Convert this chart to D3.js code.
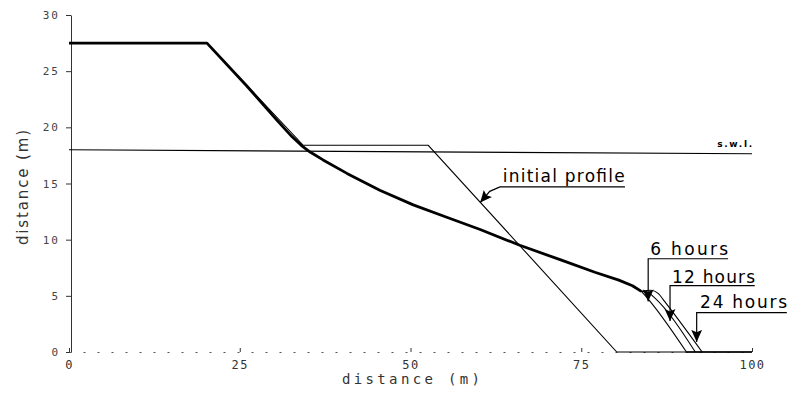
<!DOCTYPE html>
<html>
<head>
<meta charset="utf-8">
<script src="https://cdn.jsdelivr.net/npm/d3@7"></script>
<style>
  html, body { margin: 0; padding: 0; background: #fff; }
  svg { display: block; }
</style>
</head>
<body>
<div id="chart"></div>
<script>
// values (distance in m)
const initialProfile = [[0, 27.5], [20.2, 27.5], [34.3, 18.4], [52.6, 18.4], [80.2, 0], [100, 0]];
const erodedProfile = [[0, 27.5], [20.2, 27.5], [26, 23.7], [30.5, 20.6], [32.6, 19.2], [34.0, 18.4],
    [35.3, 17.8], [37.2, 17.1], [40.7, 15.9], [45.5, 14.4], [50.4, 13.1], [55.3, 12.0],
    [60.2, 10.9], [66, 9.5], [72, 8.2], [77, 7.1], [80.5, 6.4], [82.5, 5.9], [83.8, 5.4]];
const toe6h = [[83.8, 5.4], [84.4, 5.0], [90.4, 0]];
const toe12h = [[83.8, 5.4], [84.8, 5.3], [85.6, 4.9], [91.7, 0]];
const toe24h = [[83.8, 5.4], [85.2, 5.5], [86.3, 5.2], [87.2, 4.5], [92.7, 0]];
const swl = [[0, 18.0], [100, 17.65]];
const bottom = [[90.4, 0], [100, 0]];

const xTicks = [0, 25, 50, 75, 100];
const yTicks = [0, 5, 10, 15, 20, 25, 30];

// annotation labels and their leader lines
const labels = ["initial profile", "6 hours", "12 hours", "24 hours"];
const labelAt = [[63.5, 15.14], [85.1, 8.64], [88.3, 6.14], [92.4, 3.92]];
const labelWidth = [122, 78, 83, 87];
const leaders = [
    [[81.4, 14.7], [63.1, 14.7], [61.6, 14.3], [60.2, 13.3]],
    [[96.5, 8.3], [84.8, 8.3], [84.8, 4.5]],
    [[100.4, 5.9], [88.0, 5.9], [88.0, 2.75]],
    [[105.1, 3.5], [91.9, 3.5], [91.9, 0.9]]
];

const width = 789, height = 397;
const svg = d3.select("#chart").append("svg")
    .attr("width", width)
    .attr("height", height)
    .style("background-color", "white");

const x = d3.scaleLinear().domain([0, 100]).range([69, 752]);
const y = d3.scaleLinear().domain([0, 30]).range([352, 15]);

svg.append("defs").append("marker")
    .attr("id", "arrow")
    .attr("markerUnits", "userSpaceOnUse")
    .attr("viewBox", "0 -5 10 10")
    .attr("refX", 10)
    .attr("refY", 0)
    .attr("markerWidth", 12)
    .attr("markerHeight", 12)
    .attr("orient", "auto")
    .append("path")
    .attr("d", "M0,-4.5L10,0L0,4.5L2,0Z")
    .attr("fill", "black");

// axes
const yAxis = svg.append("g")
    .attr("transform", "translate(71,0)")
    .call(d3.axisLeft(y).tickValues(yTicks).tickSize(5).tickSizeOuter(0).tickPadding(6));
yAxis.select(".domain").attr("stroke", "#333");
yAxis.selectAll(".tick line").attr("stroke", "#333");
yAxis.selectAll("text")
    .attr("font-family", "DejaVu Sans Mono")
    .attr("font-size", 11)
    .attr("letter-spacing", 2)
    .attr("fill", "#444");

const xAxis = svg.append("g")
    .attr("transform", "translate(0,352)")
    .call(d3.axisBottom(x).tickValues(xTicks).tickSize(-4).tickSizeOuter(0).tickPadding(8));
xAxis.select(".domain")
    .attr("stroke", "#555")
    .attr("stroke-dasharray", "2,12");
xAxis.selectAll(".tick line").attr("stroke", "#333");
xAxis.selectAll("text")
    .attr("font-family", "DejaVu Sans Mono")
    .attr("font-size", 12)
    .attr("letter-spacing", 1.5)
    .attr("fill", "#333");

svg.append("text")
    .attr("x", 342)
    .attr("y", 384)
    .attr("font-family", "DejaVu Sans Mono")
    .attr("font-size", 14)
    .attr("textLength", 138)
    .attr("lengthAdjust", "spacing")
    .attr("fill", "#333")
    .text("distance (m)");

svg.append("text")
    .attr("transform", "translate(28,245) rotate(-90)")
    .attr("font-family", "DejaVu Sans")
    .attr("font-size", 15)
    .attr("textLength", 115)
    .attr("lengthAdjust", "spacing")
    .attr("fill", "#333")
    .text("distance (m)");

// profiles
const straight = d3.line().x(d => x(d[0])).y(d => y(d[1]));
const smooth = d3.line().x(d => x(d[0])).y(d => y(d[1])).curve(d3.curveMonotoneX);

svg.append("path").datum(swl)
    .attr("d", straight).attr("fill", "none").attr("stroke", "black").attr("stroke-width", 1.1);

svg.append("path").datum(initialProfile)
    .attr("d", straight).attr("fill", "none").attr("stroke", "black").attr("stroke-width", 1.1);

[toe6h, toe12h, toe24h].forEach(toe => {
    svg.append("path").datum(toe)
        .attr("d", smooth).attr("fill", "none").attr("stroke", "black").attr("stroke-width", 1.1);
});

svg.append("path").datum(bottom)
    .attr("d", straight).attr("fill", "none").attr("stroke", "black").attr("stroke-width", 1.5);

svg.append("path").datum(erodedProfile)
    .attr("d", straight).attr("fill", "none").attr("stroke", "black")
    .attr("stroke-width", 2.8).attr("stroke-linejoin", "round");

svg.append("text")
    .attr("x", x(94.9))
    .attr("y", y(18.25))
    .attr("font-family", "DejaVu Sans")
    .attr("font-size", 9)
    .attr("font-weight", "bold")
    .attr("textLength", 35)
    .attr("lengthAdjust", "spacing")
    .text("s.w.l.");

// annotations
labels.forEach((label, i) => {
    svg.append("text")
        .attr("x", x(labelAt[i][0]))
        .attr("y", y(labelAt[i][1]))
        .attr("font-family", "DejaVu Sans")
        .attr("font-size", 17)
        .attr("textLength", labelWidth[i])
        .attr("lengthAdjust", "spacing")
        .text(label);

    svg.append("path").datum(leaders[i])
        .attr("d", straight)
        .attr("fill", "none")
        .attr("stroke", "black")
        .attr("stroke-width", 1.2)
        .attr("marker-end", "url(#arrow)");
});
</script>
</body>
</html>
